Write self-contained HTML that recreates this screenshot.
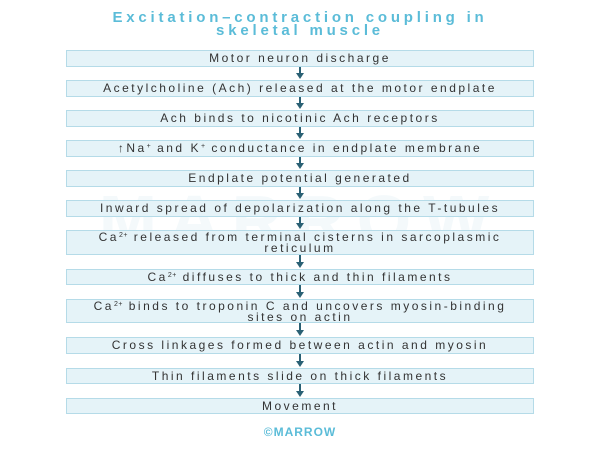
<!DOCTYPE html>
<html><head><meta charset="utf-8"><style>
body{margin:0;width:600px;height:450px;background:#fff;position:relative;overflow:hidden;font-family:"Liberation Sans",Arial,sans-serif}
.t{position:absolute;left:0;width:600px;text-align:center;color:#5bbcd8;font-weight:bold;font-size:15px;line-height:13px;top:11px;letter-spacing:3.8px}
.b{position:absolute;left:66px;width:468px;background:#e5f3f8;border:1px solid #b5dbe8;color:#333;font-size:12px;letter-spacing:2.5px;text-align:center;line-height:11px;box-sizing:border-box;white-space:nowrap}
.a{position:absolute;left:299px;width:2px;background:#2a6074}
.h{position:absolute;left:296px;width:0;height:0;border-left:4px solid transparent;border-right:4px solid transparent;border-top:6px solid #2a6074}
sup{font-size:7px;vertical-align:4px;line-height:0;letter-spacing:0.5px}
.wm{position:absolute;left:40px;top:180px;width:520px;text-align:center;font-size:70px;font-weight:bold;color:#f4f9fb;letter-spacing:12px}
</style></head><body>
<div class="wm">MARROW</div>
<div class="t">Excitation–contraction coupling in<br>skeletal muscle</div>
<div class="b" style="top:50px;height:17px;padding-top:2px">Motor neuron discharge</div>
<div class="b" style="top:80px;height:17px;padding-top:2px">Acetylcholine (Ach) released at the motor endplate</div>
<div class="b" style="top:110px;height:17px;padding-top:2px">Ach binds to nicotinic Ach receptors</div>
<div class="b" style="top:140px;height:17px;padding-top:2px">↑Na<sup>+</sup> and K<sup>+</sup> conductance in endplate membrane</div>
<div class="b" style="top:170px;height:17px;padding-top:2px">Endplate potential generated</div>
<div class="b" style="top:200px;height:17px;padding-top:2px">Inward spread of depolarization along the T-tubules</div>
<div class="b" style="top:230px;height:25px;padding-top:1px">Ca<sup>2+</sup> released from terminal cisterns in sarcoplasmic<br>reticulum</div>
<div class="b" style="top:269px;height:16px;padding-top:2px">Ca<sup>2+</sup> diffuses to thick and thin filaments</div>
<div class="b" style="top:299px;height:24px;padding-top:1px">Ca<sup>2+</sup> binds to troponin C and uncovers myosin-binding<br>sites on actin</div>
<div class="b" style="top:337px;height:17px;padding-top:2px">Cross linkages formed between actin and myosin</div>
<div class="b" style="top:368px;height:16px;padding-top:2px">Thin filaments slide on thick filaments</div>
<div class="b" style="top:398px;height:16px;padding-top:2px">Movement</div>

<div class="a" style="top:67px;height:7px"></div><div class="h" style="top:73px"></div>
<div class="a" style="top:97px;height:7px"></div><div class="h" style="top:103px"></div>
<div class="a" style="top:127px;height:7px"></div><div class="h" style="top:133px"></div>
<div class="a" style="top:157px;height:7px"></div><div class="h" style="top:163px"></div>
<div class="a" style="top:187px;height:7px"></div><div class="h" style="top:193px"></div>
<div class="a" style="top:217px;height:7px"></div><div class="h" style="top:223px"></div>
<div class="a" style="top:255px;height:8px"></div><div class="h" style="top:262px"></div>
<div class="a" style="top:285px;height:8px"></div><div class="h" style="top:292px"></div>
<div class="a" style="top:323px;height:8px"></div><div class="h" style="top:330px"></div>
<div class="a" style="top:354px;height:8px"></div><div class="h" style="top:361px"></div>
<div class="a" style="top:384px;height:8px"></div><div class="h" style="top:391px"></div>

<div style="position:absolute;left:240px;top:425px;width:120px;text-align:center;color:#5bbcd8;font-size:12px;font-weight:bold;letter-spacing:1px">©MARROW</div>
</body></html>
